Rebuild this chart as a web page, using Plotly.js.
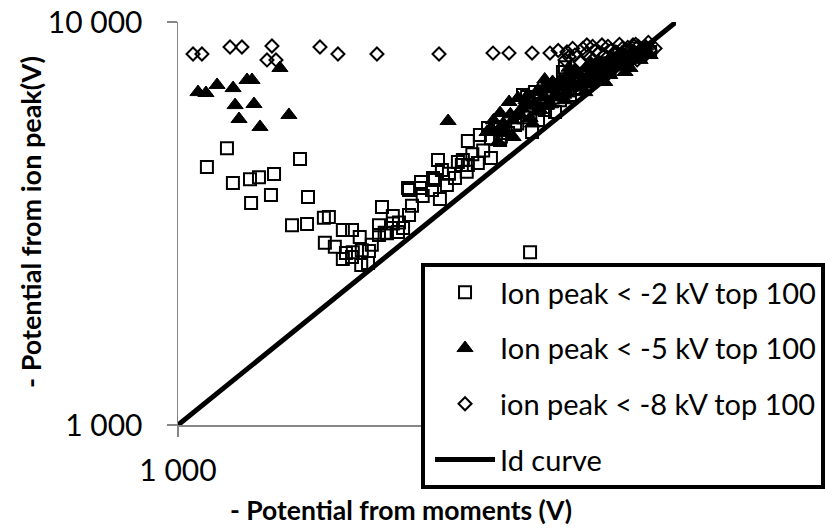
<!DOCTYPE html>
<html>
<head>
<meta charset="utf-8">
<script src="https://cdn.plot.ly/plotly-3.0.1.min.js"></script>
<style>html,body{margin:0;padding:0;background:#fff;}</style>
</head>
<body>
<div id="chart" style="width:825px;height:529px;"></div>
<script>
// Series: "Ion peak < -2 kV top 100" (open squares)
const sqX = [1254,1143,1289,1395,1454,1559,1402,1537,1758,1824,1694,1816,1963,2009,1972,2065,2143,2236,2174,2244,2317,2143,2236,2339,2407,2418,2568,2533,2533,2628,2702,2778,2765,2910,2910,3076,3076,3236,3281,3357,3467,3327,3388,3648,3733,3820,3715,4039,4193,4372,5140,5023,5212,4000,2897,3251,2831,5093,5929,5984,4929,5284,2333,3820,4434,4752,5458,5848,6412,6871,7362,7900,8470,8872,5715,6124,
  3900,4100,4250,4450,4600,4800,4950,5100,5300,5500,5650,5800,6000,6200,6400,6600,6800,7000,7200,7500,7700,8000,8300,3500,3600,3100,2950,2700,2600,2450,3800,4250];
const sqY = [4864,4365,3986,4074,4121,4198,3556,3724,4571,3681,3133,3155,3266,3281,2831,2767,3048,3048,2673,2685,2928,2582,2612,2716,2523,2703,3475,3133,2961,2992,3162,3181,3013,3319,3828,3873,4009,3828,4055,3639,3940,4546,4295,4494,4546,5070,4416,5244,5457,5489,5333,6516,6699,4467,3873,4102,3083,2685,7516,7727,6591,5714,2495,4416,5093,5549,6050,6397,6855,7261,7603,7962,8279,8425,5980,6591,
  4700,4800,5150,5200,5300,5600,5800,5900,6100,6300,6500,6700,6900,7000,7300,7400,7600,7800,7900,8100,8300,8400,8600,4200,4100,3700,3500,3300,3000,2800,4250,4600];
// Series: "Ion peak < -5 kV top 100" (filled triangles)
const triX = [1097,1138,1198,1290,1376,1408,1602,1302,1421,1326,1461,1670,3486,4174,4393,4434,4622,4709,4816,4999,5284,5483,5715,5848,6124,6412,6714,7031,7362,7721,8084,8470,8872,5333,5093,5984,6561,7194,7900,7543,6871,6266,
  4500,4650,4900,5050,5200,5400,5550,5650,5900,6000,6200,6300,6500,6600,6800,7000,7150,7300,7500,7700,7950,8150,8300,8600,4300,4550,5150,5600,6050,6700,
  4250,4400,4700,4850,5000,5250,5350,5500,5750,5800,5950,6150,6350,6450,6650,6900,7100,7250,7450,7650,7800,8000,8250,8450,8700,5450,6100,6750];
const triY = [6700,6665,6980,6855,7180,7180,7690,6220,6260,5745,5490,5880,5680,5333,5035,5943,6332,5184,6478,6397,6776,6982,6591,7178,6855,7388,7178,7603,7388,7907,7691,8054,8279,6050,5780,6397,6699,7097,7516,8054,7816,7603,
  5600,5900,6100,6600,6300,6500,6800,7100,6900,7300,7100,7500,7200,7700,7450,7900,7650,8000,7750,8150,8000,8350,8150,8500,5700,5300,5600,6250,6650,7000,
  5450,5350,5700,5900,6200,6000,6700,6200,6500,7000,6600,7400,6900,7000,7350,7200,7350,7700,8100,7900,8250,8200,8450,8300,8700,7200,7700,7900];
// Series: "ion peak < -8 kV top 100" (open diamonds)
const diaX = [1072,1117,1272,1344,1544,1509,1573,1928,2095,2509,3343,4291,4620,5140,5585,5986,6040,6622,7100,8198,8356,6266,6714,7194,7543,7721,8670,8872,9078,7900,7362,6412,
  6500,6900,7300,7700,8000,8400,8800,6200,5800,6100,6600,7000,7400,7800,8100,8500,6800,7600,8300];
const diaY = [8330,8330,8670,8670,8720,8050,8050,8670,8330,8330,8330,8375,8375,8375,8375,8050,8425,8770,8770,8770,8050,8279,8140,8279,8425,8140,8279,8510,8600,8510,8050,7962,
  8600,8500,8700,8800,8650,8700,8900,8600,8500,8200,8350,8400,8500,8600,8500,8550,8700,8400,8800];
// Identity curve
const idX = [1000,10000];
const idY = [1000,10000];
// Tick labels
const tickVals = [1000,10000];
const tickText = ['1 000','10 000'];
const names = ['Ion peak < -2 kV top 100','Ion peak < -5 kV top 100','ion peak < -8 kV top 100','Id curve'];

const FONT = 'Lato, Carlito, "Open Sans", sans-serif';

const traces = [
  {x:sqX, y:sqY, name:names[0], legendgroup:'a', type:'scatter', mode:'markers',
   marker:{symbol:'square-open', size:12, color:'#000', line:{width:2, color:'#000'}}},
  {x:triX, y:triY, name:names[1], legendgroup:'b', type:'scatter', mode:'markers',
   marker:{symbol:'triangle-up', size:14, color:'#000', line:{width:1, color:'#000'}}},
  {x:diaX, y:diaY, name:names[2], legendgroup:'c', type:'scatter', mode:'markers',
   marker:{symbol:'diamond-open', size:10, color:'#000', line:{width:2, color:'#000'}}},
  {x:idX, y:idY, name:names[3], legendgroup:'d', type:'scatter', mode:'lines',
   line:{color:'#000', width:5}}
];

const axisCommon = {
  type:'log', range:[3,4], tickmode:'array', tickvals:tickVals, ticktext:tickText,
  zeroline:false, showline:true, linecolor:'#868686', linewidth:1.5,
  ticks:'outside', ticklen:10, tickwidth:1.5, tickcolor:'#868686',
  tickfont:{family:FONT, size:30, color:'#000'}
};

const layout = {
  width:825, height:529,
  margin:{l:178, r:149, t:22, b:104, autoexpand:false},
  paper_bgcolor:'#fff', plot_bgcolor:'#fff',
  font:{family:FONT, size:27, color:'#000'},
  showlegend:true,
  xaxis:Object.assign({}, axisCommon, {showgrid:false, ticklabelstandoff:8}),
  yaxis:Object.assign({}, axisCommon, {showgrid:true, gridcolor:'#868686', gridwidth:1.5, ticklabelstandoff:18}),
  legend:{x:0.488, y:0.402, xanchor:'left', yanchor:'top', bgcolor:'#fff',
    bordercolor:'#000', borderwidth:4, traceorder:'grouped', tracegroupgap:15,
    itemwidth:60, indentation:5, font:{family:FONT, size:29, color:'#000'}},
  annotations:[
    {text:'- Potential from moments (V)', xref:'paper', yref:'paper', x:0.4478, y:-0.21,
     xanchor:'center', yanchor:'middle', showarrow:false,
     font:{family:FONT, size:26.5, color:'#000', weight:700}},
    {text:'- Potential from ion peak(V)', xref:'paper', yref:'paper', x:-0.295, y:0.504,
     xanchor:'center', yanchor:'middle', showarrow:false, textangle:-90,
     font:{family:FONT, size:27, color:'#000', weight:700}}
  ]
};

Plotly.newPlot('chart', traces, layout, {displayModeBar:false, staticPlot:true});
</script>
</body>
</html>
